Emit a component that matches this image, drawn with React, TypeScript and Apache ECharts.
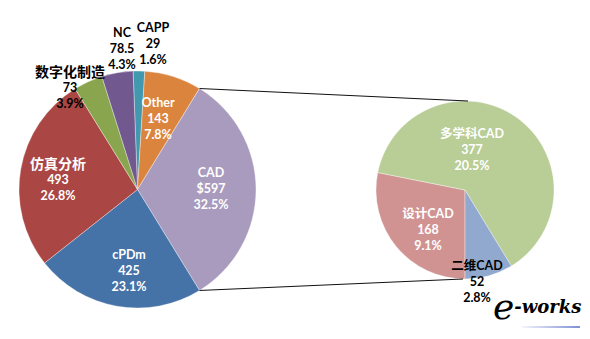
import React, { useEffect, useRef } from "react";
import * as echarts from "echarts";

// ---- data ----
const mainNames = ["CAPP", "Other", "CAD", "cPDm", "仿真分析", "数字化制造", "NC"];
const mainValues = [29, 143, 597, 425, 493, 73, 78.5];
const mainValueText = ["29", "143", "$597", "425", "493", "73", "78.5"];
const mainPercents = ["1.6%", "7.8%", "32.5%", "23.1%", "26.8%", "3.9%", "4.3%"];

const subNames = ["设计CAD", "多学科CAD", "二维CAD"];
const subValues = [168, 377, 52];
const subPercents = ["9.1%", "20.5%", "2.8%"];

// ---- styles / layout ----
const mainColors = ["#4198AF", "#DB843D", "#A99BBD", "#4572A7", "#AA4643", "#89A54E", "#71588F"];
const subColors = ["#D09392", "#B9CD96", "#92A9CF"];
const mainLabelColors = ["#000", "#fff", "#fff", "#fff", "#fff", "#000", "#000"];
const subLabelColors = ["#fff", "#fff", "#000"];
const mainLabelPos = [
  [153, 43], [158, 118], [211, 188], [129, 270], [58, 179], [70, 87], [122, 48],
];
const subLabelPos = [[428, 229], [472, 149], [477, 281]];
const bigName = ["仿真分析", "数字化制造"];

const MAIN_C = [137.5, 189.5];
const MAIN_R = 118.5;
const SUB_C = [465, 190];
const SUB_R = 89;
const LINKED = "CAD";

const FONT = 'Lato, "Noto Sans CJK SC", sans-serif';

export default function App() {
  const ref = useRef<HTMLDivElement>(null);
  useEffect(() => {
    if (!ref.current) return;
    const chart = echarts.init(ref.current, null, { renderer: "svg" });

    const total = mainValues.reduce((a, b) => a + b, 0);
    const linkIdx = mainNames.indexOf(LINKED);
    const before = mainValues.slice(0, linkIdx).reduce((a, b) => a + b, 0);
    const half = mainValues[linkIdx] / 2;
    // center the linked slice at 3 o'clock
    const startAngle = ((before + half) / total) * 360;
    const a1 = ((startAngle - (before / total) * 360) * Math.PI) / 180;
    const a2 = ((startAngle - ((before + mainValues[linkIdx]) / total) * 360) * Math.PI) / 180;
    const p1 = [MAIN_C[0] + MAIN_R * Math.cos(a1), MAIN_C[1] - MAIN_R * Math.sin(a1)];
    const p2 = [MAIN_C[0] + MAIN_R * Math.cos(a2), MAIN_C[1] - MAIN_R * Math.sin(a2)];

    const mkLabel = (name: string, v: string, p: string, color: string) => ({
      show: true,
      position: "inside",
      formatter: `{n|${name}}\n{v|${v}}\n{v|${p}}`,
      color,
      rich: {
        n: {
          fontFamily: FONT,
          fontWeight: "bold",
          fontSize: bigName.includes(name) ? 14 : 12.5,
          color,
          lineHeight: 16,
          align: "center",
        },
        v: { fontFamily: FONT, fontWeight: "bold", fontSize: 12.5, color, lineHeight: 16, align: "center" },
      },
    });

    const mainData = mainNames.map((n, i) => ({
      name: n,
      value: mainValues[i],
      itemStyle: { color: mainColors[i] },
      label: mkLabel(n, mainValueText[i], mainPercents[i], mainLabelColors[i]),
    }));
    const subData = subNames.map((n, i) => ({
      name: n,
      value: subValues[i],
      itemStyle: { color: subColors[i] },
      label: mkLabel(n, String(subValues[i]), subPercents[i], subLabelColors[i]),
    }));

    const layout = (pos: number[][]) => (params: any) => {
      const p = pos[params.dataIndex];
      return { x: p[0], y: p[1], align: "center", verticalAlign: "middle" };
    };

    chart.setOption({
      animation: false,
      backgroundColor: "#fff",
      series: [
        {
          type: "pie",
          center: MAIN_C,
          radius: [0, MAIN_R],
          startAngle,
          clockwise: true,
          avoidLabelOverlap: false,
          itemStyle: { borderColor: "rgba(255,255,255,0.6)", borderWidth: 0.6 },
          labelLine: { show: false },
          labelLayout: layout(mainLabelPos),
          emphasis: { disabled: true },
          data: mainData,
        },
        {
          type: "pie",
          center: SUB_C,
          radius: [0, SUB_R],
          startAngle: -90,
          clockwise: true,
          avoidLabelOverlap: false,
          itemStyle: { borderColor: "rgba(255,255,255,0.6)", borderWidth: 0.6 },
          labelLine: { show: false },
          labelLayout: layout(subLabelPos),
          emphasis: { disabled: true },
          data: subData,
        },
      ],
      graphic: [
        {
          type: "line",
          shape: { x1: p1[0], y1: p1[1], x2: SUB_C[0] + 3, y2: SUB_C[1] - SUB_R },
          style: { stroke: "#111", lineWidth: 1 },
          z: 10,
        },
        {
          type: "line",
          shape: { x1: p2[0], y1: p2[1], x2: SUB_C[0] - 2, y2: SUB_C[1] + SUB_R },
          style: { stroke: "#111", lineWidth: 1 },
          z: 10,
        },
        {
          type: "rect",
          shape: { x: 522, y: 326, width: 58, height: 2 },
          style: {
            fill: new echarts.graphic.LinearGradient(0, 0, 1, 0, [
              { offset: 0, color: "#f4f4fa" },
              { offset: 1, color: "#7f8fd6" },
            ]),
          },
          z: 10,
        },
        {
          type: "text",
          x: 493,
          y: 324,
          style: {
            text: "{e|e}{d|-}{w|wor}{k|k}{w|s}",
            verticalAlign: "bottom",
            rich: {
              e: { fontFamily: "DejaVu Serif", fontStyle: "italic", fontSize: 36, color: "#F3A66B" },
              d: { fontFamily: "DejaVu Serif", fontStyle: "italic", fontWeight: "bold", fontSize: 18, color: "#E98A45" },
              w: { fontFamily: "DejaVu Serif", fontStyle: "italic", fontWeight: "bold", fontSize: 18, color: "#8E8E9E" },
              k: { fontFamily: "DejaVu Serif", fontStyle: "italic", fontWeight: "bold", fontSize: 18, color: "#F39A2C" },
            },
          },
          z: 10,
        },
      ],
    });
    return () => chart.dispose();
  }, []);
  return (
    <div
      ref={ref}
      style={{ position: "fixed", left: 0, top: 0, width: 590, height: 339, background: "#fff" }}
    />
  );
}
